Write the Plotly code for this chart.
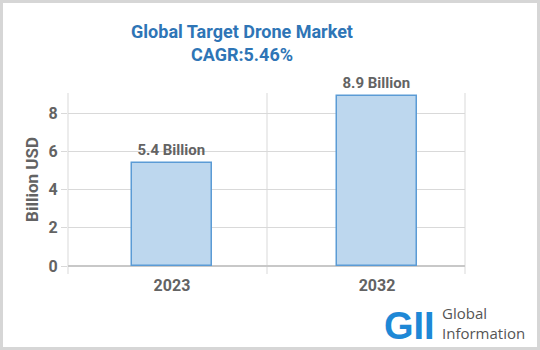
import plotly.graph_objects as go

years = ["2023", "2032"]
values = [5.4, 8.9]
labels = ["5.4 Billion", "8.9 Billion"]
title_text = "Global Target Drone Market<br>CAGR:5.46%"
y_title = "Billion USD"
y_ticks = [0, 2, 4, 6, 8]

W, H = 540, 350
L, R, T, B = 68, 465, 93, 266
pw, ph = R - L, B - T

def px(x):
    return (x - L) / pw

def py(y):
    return (B - y) / ph

gray = "#636363"
FONT = "Roboto"

fig = go.Figure()
fig.add_trace(go.Bar(
    x=[0, 1], y=values, width=0.39,
    marker=dict(color="#bdd7ee", line=dict(color="#5b9bd5", width=1.5)),
    text=labels, textposition="outside", cliponaxis=False,
    textfont=dict(family=FONT, size=15, color=gray, weight="bold"),
))

fig.update_layout(
    width=W, height=H,
    margin=dict(l=L, r=W - R, t=T, b=H - B),
    paper_bgcolor="white", plot_bgcolor="white",
    showlegend=False,
    bargap=0,
    title=dict(text="<b>" + title_text + "</b>", x=242 / W, xanchor="center",
               y=1 - 38 / H, yanchor="middle",
               font=dict(family=FONT, size=18, color="#2e75b6")),
    xaxis=dict(range=[-0.507, 1.429], tickvals=[0, 1], ticktext=years,
               showgrid=False, zeroline=False, showline=False, ticks="",
               tickfont=dict(family=FONT, size=16, color=gray, weight="bold"),
               ticklabelstandoff=8),
    yaxis=dict(range=[0, 9.05], tickvals=y_ticks, showgrid=True,
               gridcolor="#d9d9d9", gridwidth=1, zeroline=True,
               zerolinecolor="#c8c8c8", zerolinewidth=1.5,
               ticks="outside", ticklen=6, tickcolor="#d9d9d9",
               tickfont=dict(family=FONT, size=16, color=gray, weight="bold"),
               title=dict(text=y_title, standoff=5,
                          font=dict(family=FONT, size=17, color=gray, weight="bold"))),
)

for gx in [68, 267, 465]:
    fig.add_shape(type="line", xref="paper", yref="paper",
                  x0=px(gx), x1=px(gx), y0=py(274), y1=1,
                  line=dict(color="#d9d9d9", width=1), layer="below")

fig.add_shape(type="rect", xref="paper", yref="paper",
              x0=px(1.5), x1=px(538.5), y0=py(348.5), y1=py(1.5),
              line=dict(color="#d6d6d6", width=3))

fig.add_annotation(x=px(409), y=py(326), xref="paper", yref="paper",
                   text="<b>GII</b>", showarrow=False, xanchor="center", yanchor="middle",
                   font=dict(family="Arial", size=38, color="#1e88d6"))
fig.add_annotation(x=px(440), y=py(323), xref="paper", yref="paper",
                   text="Global<br>Information", showarrow=False, align="left",
                   xanchor="left", yanchor="middle",
                   font=dict(family="Open Sans", size=15, color="#555555"))

fig.write_html("out.html")
